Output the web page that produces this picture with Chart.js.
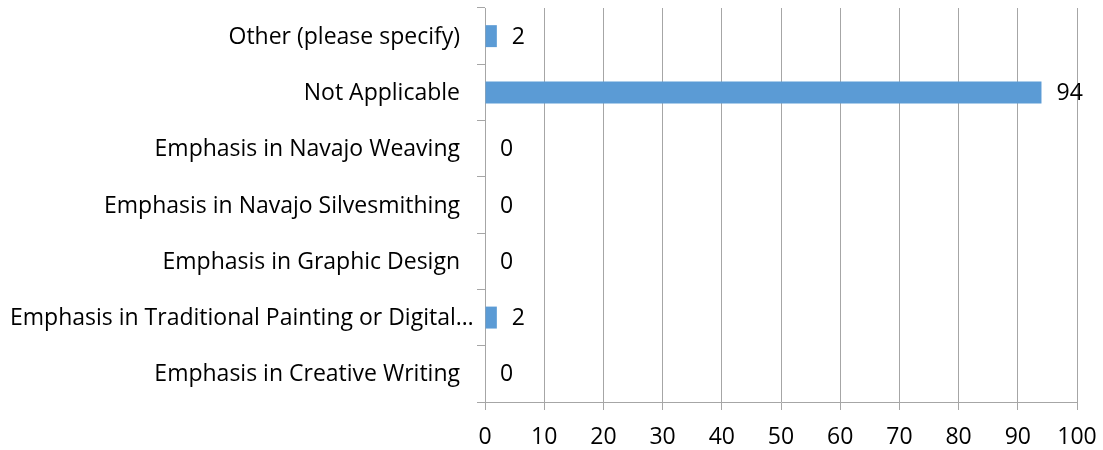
<!DOCTYPE html>
<html>
<head>
<meta charset="utf-8">
<script src="https://cdn.jsdelivr.net/npm/chart.js@4"></script>
<style>
  html, body { margin: 0; padding: 0; background: #fff; }
  #wrap { width: 1103px; height: 450px; }
</style>
</head>
<body>
<div id="wrap"><canvas id="chart" width="1103" height="450"></canvas></div>
<script>
const categories = [
    'Other (please specify)',
    'Not Applicable',
    'Emphasis in Navajo Weaving',
    'Emphasis in Navajo Silvesmithing',
    'Emphasis in Graphic Design',
    'Emphasis in Traditional Painting or Digital…',
    'Emphasis in Creative Writing'
];
const responses = [2, 94, 0, 0, 0, 2, 0];
const xTicks = [0, 10, 20, 30, 40, 50, 60, 70, 80, 90, 100];

const FONT = '"Open Sans", Lato, sans-serif';
const FONT_SIZE = 23;

// y labels drawn here so the long one can run past the tick marks like the original
const yLabelPlugin = {
    id: 'yLabels',
    afterDraw(chart) {
        const ctx = chart.ctx;
        const y = chart.scales.y;
        ctx.save();
        ctx.font = FONT_SIZE + 'px ' + FONT;
        ctx.fillStyle = '#000';
        ctx.textBaseline = 'middle';
        categories.forEach((name, i) => {
            const py = y.getPixelForTick(i) + 1;
            const w = ctx.measureText(name).width;
            if (w > 450) {
                ctx.textAlign = 'left';
                ctx.fillText(name, 10, py);
            } else {
                ctx.textAlign = 'right';
                ctx.fillText(name, 460, py);
            }
        });
        ctx.restore();
    }
};

// value next to each bar
const valueLabelPlugin = {
    id: 'valueLabels',
    afterDatasetsDraw(chart) {
        const ctx = chart.ctx;
        const meta = chart.getDatasetMeta(0);
        ctx.save();
        ctx.font = FONT_SIZE + 'px ' + FONT;
        ctx.fillStyle = '#000';
        ctx.textAlign = 'left';
        ctx.textBaseline = 'middle';
        meta.data.forEach((bar, i) => {
            ctx.fillText(String(responses[i]), bar.x + 15, bar.y + 1);
        });
        ctx.restore();
    }
};

new Chart(document.getElementById('chart'), {
    type: 'bar',
    data: {
        labels: categories,
        datasets: [{
            data: responses,
            backgroundColor: '#5b9bd5',
            borderWidth: 0,
            categoryPercentage: 1,
            barPercentage: 0.39
        }]
    },
    options: {
        indexAxis: 'y',
        responsive: false,
        animation: false,
        layout: { padding: { top: 8, right: 26, left: 0, bottom: 0 } },
        plugins: {
            legend: { display: false },
            tooltip: { enabled: false }
        },
        scales: {
            x: {
                min: 0,
                max: 100,
                afterBuildTicks: (scale) => { scale.ticks = xTicks.map(v => ({ value: v })); },
                afterFit: (scale) => {
                    scale.height = 48;
                    scale.paddingLeft = 0;
                    scale.paddingRight = 0;
                },
                grid: { color: '#a6a6a6', lineWidth: 1, tickLength: 8 },
                border: { color: '#a6a6a6' },
                ticks: { color: '#000', font: { family: FONT, size: FONT_SIZE }, padding: 14, maxRotation: 0 }
            },
            y: {
                afterFit: (scale) => { scale.width = 485; },
                grid: { offset: true, drawOnChartArea: false, color: '#a6a6a6', tickLength: 8 },
                border: { color: '#a6a6a6' },
                ticks: { display: false }
            }
        }
    },
    plugins: [yLabelPlugin, valueLabelPlugin]
});
</script>
</body>
</html>
